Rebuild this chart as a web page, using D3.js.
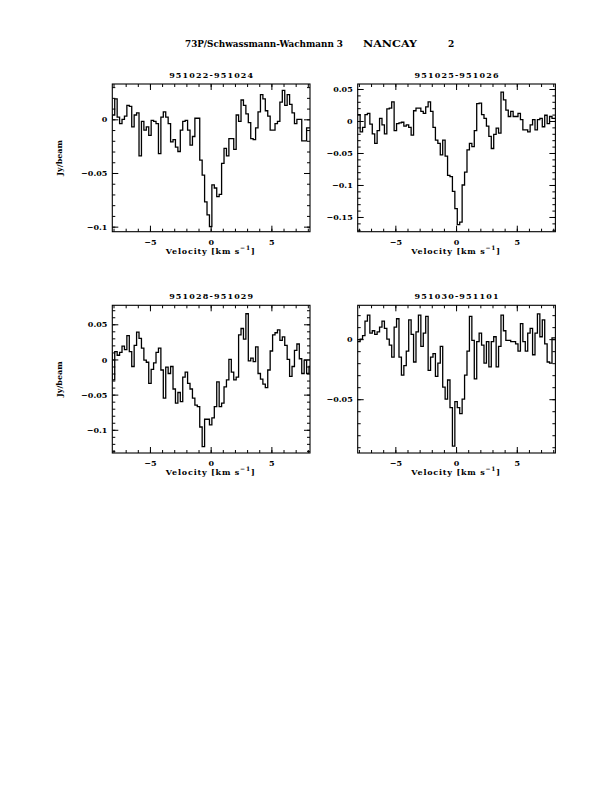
<!DOCTYPE html>
<html><head><meta charset="utf-8">
<script src="https://cdn.jsdelivr.net/npm/d3@7"></script>
<style>
html,body{margin:0;padding:0;background:#fff;}
svg{display:block;}
text{font-family:"DejaVu Serif",serif;font-weight:bold;fill:#000;}
</style></head><body>
<svg id="chart" width="612" height="792"></svg>
<script>
// ---- data ----
const velocity = [-8.2,-8,-7.8,-7.6,-7.4,-7.2,-7,-6.8,-6.6,-6.4,-6.2,-6,-5.8,-5.6,-5.4,-5.2,-5,-4.8,-4.6,-4.4,-4.2,-4,-3.8,-3.6,-3.4,-3.2,-3,-2.8,-2.6,-2.4,-2.2,-2,-1.8,-1.6,-1.4,-1.2,-1,-0.8,-0.6,-0.4,-0.2,0,0.2,0.4,0.6,0.8,1,1.2,1.4,1.6,1.8,2,2.2,2.4,2.6,2.8,3,3.2,3.4,3.6,3.8,4,4.2,4.4,4.6,4.8,5,5.2,5.4,5.6,5.8,6,6.2,6.4,6.6,6.8,7,7.2,7.4,7.6,7.8,8,8.2];

const flux_951022_951024 = [0.0,0.004,0.019,0.002,-0.004,0.0,0.003,0.013,0.012,-0.007,
 0.004,0.006,-0.034,-0.002,-0.01,-0.007,-0.015,-0.001,-0.002,-0.004,
 -0.032,0.002,0.007,0.002,-0.004,-0.021,-0.019,-0.026,-0.03,-0.01,
 -0.002,-0.001,-0.01,-0.024,-0.016,0.001,0.001,-0.038,-0.052,-0.077,
 -0.089,-0.1,-0.061,-0.064,-0.072,-0.07,-0.041,-0.027,-0.034,-0.018,
 -0.018,-0.028,0.004,-0.002,0.018,0.013,0.005,-0.003,-0.018,-0.019,
 -0.008,0.007,0.023,0.019,0.008,0.003,-0.01,-0.01,-0.004,-0.002,
 0.016,0.027,0.013,0.023,0.014,0.006,-0.004,0.0,0.0,-0.02,
 -0.02,-0.008,-0.008];

const flux_951025_951026 = [0.01,0.01,-0.017,-0.01,0.01,0.012,-0.005,-0.02,-0.035,-0.015,
 0.004,-0.006,-0.02,0.019,0.02,0.03,-0.015,-0.004,-0.003,-0.002,
 -0.008,-0.006,-0.01,-0.022,0.016,0.02,0.02,0.015,0.012,0.022,
 0.03,0.015,-0.01,-0.03,-0.035,-0.053,-0.03,-0.055,-0.085,-0.087,
 -0.11,-0.137,-0.162,-0.158,-0.1,-0.08,-0.045,-0.035,-0.04,-0.015,
 0.027,0.028,0.01,0.004,-0.008,-0.024,-0.043,-0.021,-0.011,-0.019,
 0.045,0.033,0.017,0.007,0.015,0.007,0.007,0.012,0.002,-0.014,
 -0.014,-0.017,-0.006,0.002,-0.014,0.002,0.004,-0.009,0.009,-0.004,
 0.007,0.004,0.004];

const flux_951028_951029 = [0.008,-0.029,0.011,0.006,0.01,0.019,0.014,0.034,0.011,-0.01,
 0.02,0.039,0.03,0.016,-0.001,-0.004,-0.034,-0.014,-0.005,0.01,
 0.016,-0.015,-0.055,-0.011,-0.02,-0.01,-0.042,-0.062,-0.047,-0.06,
 -0.025,-0.018,-0.034,-0.042,-0.055,-0.065,-0.067,-0.096,-0.124,-0.085,
 -0.085,-0.093,-0.083,-0.067,-0.032,-0.067,-0.062,-0.039,-0.029,0.0,
 -0.018,-0.029,-0.025,0.035,0.044,0.029,0.065,-0.002,0.002,-0.003,
 0.018,-0.02,-0.028,-0.035,-0.04,-0.015,0.012,0.035,0.038,0.042,
 0.027,0.032,0.02,0.0,-0.024,-0.01,0.013,0.022,0.001,-0.02,
 -0.001,-0.02,-0.01];

const flux_951030_951101 = [-0.002,-0.002,0.0,0.003,0.015,0.02,0.005,0.007,0.004,0.006,
 0.01,0.015,0.009,0.0,-0.005,-0.015,0.01,0.017,-0.015,-0.03,
 -0.022,-0.01,0.016,0.004,-0.019,0.006,0.02,-0.006,0.005,0.019,
 -0.026,-0.015,-0.012,-0.031,-0.02,-0.006,-0.04,-0.05,-0.034,-0.057,
 -0.089,-0.052,-0.057,-0.062,-0.05,-0.03,-0.01,0.019,-0.001,-0.033,
 -0.002,0.005,-0.005,-0.02,-0.002,-0.023,-0.002,0.002,-0.023,-0.006,
 0.02,0.007,-0.001,-0.001,-0.002,-0.002,-0.004,-0.01,0.013,-0.002,
 -0.01,0.005,0.009,-0.013,0.005,0.021,0.002,0.016,-0.004,-0.019,
 -0.02,0.001,0.001];

const panelTitles = ["951022-951024","951025-951026","951028-951029","951030-951101"];
const xMajorTicks = [-5, 0, 5];
const xMinorTicks = [-8,-7,-6,-5,-4,-3,-2,-1,0,1,2,3,4,5,6,7,8];
const yMajorTicks1 = [-0.1, -0.05, 0];
const yMajorTicks2 = [-0.15, -0.1, -0.05, 0, 0.05];
const yMajorTicks3 = [-0.1, -0.05, 0, 0.05];
const yMajorTicks4 = [-0.05, 0];
const titleMain = "73P/Schwassmann-Wachmann 3";
const titleSite = "NANCAY";
const titlePage = "2";
const xAxisLabel = "Velocity [km s";
const xAxisLabelSup = "\u22121";
const yAxisLabel = "Jy/beam";

// ---- layout ----
const W = 197.7, H = 147.7;
const xDomain = [-8.1, 8.18];
const panels = [
  {title: panelTitles[0], flux: flux_951022_951024, yDomain: [-0.1047, 0.0329], yMajor: yMajorTicks1, left: 112.3, top: 84, yLab: true},
  {title: panelTitles[1], flux: flux_951025_951026, yDomain: [-0.173, 0.0578], yMajor: yMajorTicks2, left: 357.7, top: 84, yLab: false},
  {title: panelTitles[2], flux: flux_951028_951029, yDomain: [-0.133, 0.077], yMajor: yMajorTicks3, left: 112.3, top: 305.3, yLab: true},
  {title: panelTitles[3], flux: flux_951030_951101, yDomain: [-0.0948, 0.0282], yMajor: yMajorTicks4, left: 357.7, top: 305.3, yLab: false}
];

const svg = d3.select("#chart");
svg.append("rect").attr("width", 612).attr("height", 792).attr("fill", "#fff");

// main title
const tg = svg.append("g");
tg.append("text").attr("x", 185).attr("y", 47).attr("font-size", 9)
  .attr("textLength", 158).attr("lengthAdjust", "spacingAndGlyphs").text(titleMain);
tg.append("text").attr("x", 363).attr("y", 47).attr("font-size", 9)
  .attr("textLength", 54).attr("lengthAdjust", "spacingAndGlyphs").text(titleSite);
tg.append("text").attr("x", 448).attr("y", 47).attr("font-size", 9).text(titlePage);

function styleAxis(g) {
  g.select(".domain").remove();
  g.selectAll("line").attr("stroke", "#000").attr("stroke-width", 1);
  g.attr("font-family", null).attr("font-size", null);
  g.selectAll("text").attr("font-size", 8).attr("fill", "#000");
}

panels.forEach((p, i) => {
  const g = svg.append("g");
  const x = d3.scaleLinear().domain(xDomain).range([p.left, p.left + W]);
  const y = d3.scaleLinear().domain(p.yDomain).range([p.top + H, p.top]);
  const bottom = p.top + H, right = p.left + W;

  const clipId = "clip" + i;
  svg.append("clipPath").attr("id", clipId)
    .append("rect").attr("x", p.left).attr("y", p.top).attr("width", W).attr("height", H);

  // histogram
  const line = d3.line().x((d, k) => x(velocity[k])).y(d => y(d)).curve(d3.curveStep);
  g.append("path").attr("d", line(p.flux)).attr("fill", "none")
    .attr("stroke", "#000").attr("stroke-width", 1.3).attr("clip-path", `url(#${clipId})`);

  // frame
  g.append("rect").attr("x", p.left).attr("y", p.top).attr("width", W).attr("height", H)
    .attr("fill", "none").attr("stroke", "#000").attr("stroke-width", 1.1);

  const yMinor = d3.range(Math.ceil(p.yDomain[0] * 100 - 1e-9), Math.floor(p.yDomain[1] * 100 + 1e-9) + 1).map(k => k / 100);

  // bottom axis
  g.append("g").attr("transform", `translate(0,${bottom})`)
    .call(d3.axisBottom(x).tickValues(xMinorTicks).tickSize(-3).tickSizeOuter(0).tickFormat(""))
    .call(styleAxis);
  g.append("g").attr("transform", `translate(0,${bottom})`)
    .call(d3.axisBottom(x).tickValues(xMajorTicks).tickSize(-6).tickSizeOuter(0).tickPadding(7.5).tickFormat(d3.format("d")))
    .call(styleAxis);
  // top axis
  g.append("g").attr("transform", `translate(0,${p.top})`)
    .call(d3.axisTop(x).tickValues(xMinorTicks).tickSize(-3).tickSizeOuter(0).tickFormat(""))
    .call(styleAxis);
  g.append("g").attr("transform", `translate(0,${p.top})`)
    .call(d3.axisTop(x).tickValues(xMajorTicks).tickSize(-6).tickSizeOuter(0).tickFormat(""))
    .call(styleAxis);
  // left axis
  g.append("g").attr("transform", `translate(${p.left},0)`)
    .call(d3.axisLeft(y).tickValues(yMinor).tickSize(-3).tickSizeOuter(0).tickFormat(""))
    .call(styleAxis);
  g.append("g").attr("transform", `translate(${p.left},0)`)
    .call(d3.axisLeft(y).tickValues(p.yMajor).tickSize(-6).tickSizeOuter(0).tickPadding(5).tickFormat(d3.format("~g")))
    .call(styleAxis);
  // right axis
  g.append("g").attr("transform", `translate(${right},0)`)
    .call(d3.axisRight(y).tickValues(yMinor).tickSize(-3).tickSizeOuter(0).tickFormat(""))
    .call(styleAxis);
  g.append("g").attr("transform", `translate(${right},0)`)
    .call(d3.axisRight(y).tickValues(p.yMajor).tickSize(-6).tickSizeOuter(0).tickFormat(""))
    .call(styleAxis);

  // panel title
  g.append("text").attr("x", (p.left + right) / 2).attr("y", p.top - 6.4)
    .attr("text-anchor", "middle").attr("font-size", 8)
    .attr("textLength", 84).attr("lengthAdjust", "spacing").text(p.title);

  // x axis label
  const xl = g.append("text").attr("x", x(0)).attr("y", bottom + 22.3)
    .attr("text-anchor", "middle").attr("font-size", 8).attr("letter-spacing", 0.8);
  xl.append("tspan").text(xAxisLabel);
  xl.append("tspan").attr("dy", -4).attr("font-size", 6).text(xAxisLabelSup);
  xl.append("tspan").attr("dy", 4).text("]");

  // y axis label
  if (p.yLab) {
    g.append("text").attr("transform", `translate(61.7,${(p.top + bottom) / 2}) rotate(-90)`)
      .attr("text-anchor", "middle").attr("font-size", 8).text(yAxisLabel);
  }
});
</script>
</body></html>
